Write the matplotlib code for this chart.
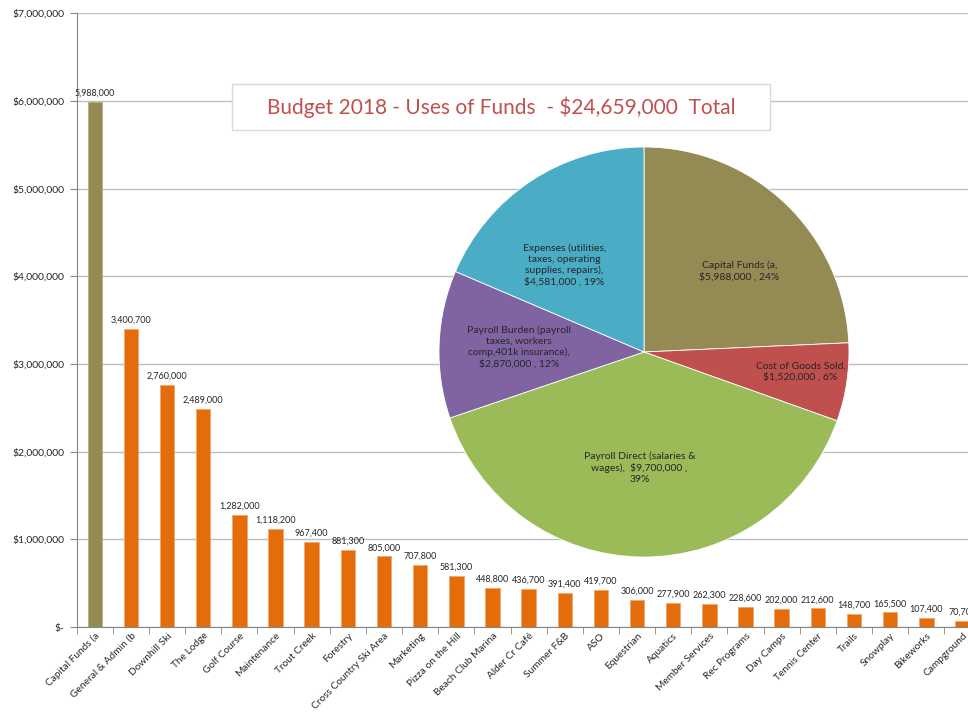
import matplotlib
matplotlib.use('Agg')
import matplotlib.pyplot as plt
from matplotlib.ticker import FuncFormatter, FixedLocator
from matplotlib.patches import Rectangle
import numpy as np

plt.rcParams['font.family'] = ['Lato', 'DejaVu Sans']

# ---------------- data ----------------
categories = ["Capital Funds (a", "General & Admin (b", "Downhill Ski", "The Lodge",
              "Golf Course", "Maintenance", "Trout Creek", "Forestry",
              "Cross Country Ski Area", "Marketing", "Pizza on the Hill",
              "Beach Club Marina", "Alder Cr Café", "Summer F&B", "ASO",
              "Equestrian", "Aquatics", "Member Services", "Rec Programs",
              "Day Camps", "Tennis Center", "Trails", "Snowplay", "Bikeworks",
              "Campground"]
values = [5988000, 3400700, 2760000, 2489000, 1282000, 1118200, 967400, 881300,
          805000, 707800, 581300, 448800, 436700, 391400, 419700, 306000, 277900,
          262300, 228600, 202000, 212600, 148700, 165500, 107400, 70700]

pie_names = ["Capital Funds (a,", "Cost of Goods Sold,", "Payroll Direct (salaries &\nwages),",
             "Payroll Burden (payroll\ntaxes, workers\ncomp,401k insurance),",
             "Expenses (utilities,\ntaxes, operating\nsupplies, repairs),"]
pie_values = [5988000, 1520000, 9700000, 2870000, 4581000]
pie_total = 24659000
title = "Budget 2018 - Uses of Funds  - $24,659,000  Total"

# ---------------- styles ----------------
OLIVE = "#948A54"
ORANGE = "#E46C0A"
pie_colors = ["#948A54", "#C0504D", "#9BBB59", "#8064A2", "#4BACC6"]
GRID = "#BFBFBF"
AXIS = "#868686"
TEXT = "#262626"

W, H = 968, 712
fig = plt.figure(figsize=(W / 100, H / 100), dpi=100)
fig.patch.set_facecolor("white")

# bar chart axes (extends slightly beyond right edge as in reference)
x0, x1, y0, y1 = 76.7, 980.5, 13.3, 627.0
ax = fig.add_axes([x0 / W, 1 - y1 / H, (x1 - x0) / W, (y1 - y0) / H])
x = np.arange(len(categories))
bar_cols = [OLIVE] + [ORANGE] * (len(categories) - 1)
edge_cols = ["#B4AC84"] + ["#F2A66A"] * (len(categories) - 1)
ax.bar(x, values, width=0.4, color=bar_cols, edgecolor=edge_cols, linewidth=0.6, zorder=3)
ax.set_xlim(-0.5, len(categories) - 0.5)
ax.set_ylim(0, 7000000)
ax.yaxis.set_major_locator(FixedLocator(np.arange(0, 7000001, 1000000)))
ax.yaxis.set_major_formatter(FuncFormatter(lambda v, p: "$-" if v == 0 else f"${v:,.0f}"))
ax.grid(axis="y", color=GRID, linewidth=1.0, zorder=0)
ax.set_axisbelow(True)
for s in ["top", "right"]:
    ax.spines[s].set_visible(False)
ax.spines["left"].set_color(AXIS)
ax.spines["bottom"].set_color(AXIS)
ax.tick_params(axis="y", labelsize=7.5, colors=AXIS, labelcolor=TEXT, length=5, pad=4)
ax.set_xticks(x)
ax.set_xticklabels(categories, rotation=45, ha="right", rotation_mode="anchor",
                   fontsize=7.3, color=TEXT)
ax.tick_params(axis="x", which="major", length=0, pad=3)
ax.set_xticks(np.arange(-0.5, len(categories), 1.0), minor=True)
ax.tick_params(axis="x", which="minor", length=5, color=AXIS)

for xi, v in zip(x, values):
    ax.annotate(f"{v:,}", (xi, v), xytext=(0, 3), textcoords="offset points",
                ha="center", va="bottom", fontsize=6.5, color=TEXT, zorder=4,
                annotation_clip=False)

# pie chart inset
cx, cy, r = 644, 352, 205
ax2 = fig.add_axes([(cx - r) / W, 1 - (cy + r) / H, 2 * r / W, 2 * r / H])
ax2.set_facecolor("none")
wedges, _ = ax2.pie(pie_values, colors=pie_colors, startangle=90, counterclock=False,
                    radius=1, wedgeprops=dict(edgecolor="white", linewidth=0.6))
ax2.set_xlim(-1, 1)
ax2.set_ylim(-1, 1)
ax2.set_aspect("equal")
ax2.axis("off")

label_polar = [(0.61, 40.2), (0.77, -7.2), (0.565, -92.3), (0.61, 177.6), (0.575, 132.5)]
for name, v, (rr, ang) in zip(pie_names, pie_values, label_polar):
    pct = round(100 * v / pie_total)
    if name.startswith("Payroll Direct"):
        txt = f"Payroll Direct (salaries &\nwages),  ${v:,} ,\n{pct}%"
    else:
        txt = f"{name}\n${v:,} , {pct}%"
    a = np.deg2rad(ang)
    ax2.text(rr * np.cos(a), rr * np.sin(a), txt, ha="center", va="center",
             fontsize=7.5, color=TEXT, linespacing=1.25)

# title box
bx0, bx1, by0, by1 = 232, 770, 84, 130
fig.add_artist(Rectangle((bx0 / W, 1 - by1 / H), (bx1 - bx0) / W, (by1 - by0) / H,
                         transform=fig.transFigure, facecolor="white",
                         edgecolor="#D9D9D9", linewidth=1.0, zorder=5))
fig.text((bx0 + bx1) / 2 / W, 1 - 107 / H, title, ha="center", va="center",
         fontsize=15, color="#C0504D", zorder=6)

fig.savefig("out.png", dpi=100)
